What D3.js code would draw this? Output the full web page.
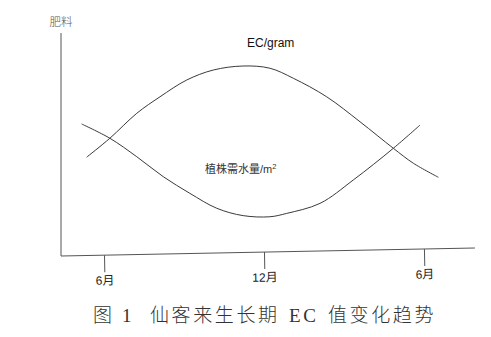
<!DOCTYPE html>
<html>
<head>
<meta charset="utf-8">
<script src="https://cdn.jsdelivr.net/npm/d3@7"></script>
<style>
  html, body { margin: 0; padding: 0; background: #fff; }
  svg { display: block; }
</style>
</head>
<body>
<svg id="chart" width="491" height="337"></svg>
<script>
// Month ticks along the growth period (offset in months from the first June)
const tickMonths = [0, 6, 12];
const tickLabels = ["6月", "12月", "6月"];

// EC per gram over the growth period (month offset, relative level)
const ecMonths = [-0.65, 0.22, 1.23, 2.1, 3.1, 4.1, 5.22, 6.22, 7.1, 8.35, 9.6, 10.85, 11.6, 12.54];
const ecValues = [44.3, 52.8, 64.0, 71.4, 78.9, 83.4, 85.2, 84.2, 79.7, 71.4, 60.2, 48.3, 41.6, 35.3];

// Plant water demand per m² over the same period
const waterMonths = [-0.84, 0.22, 1.23, 2.22, 3.22, 4.23, 5.22, 6.22, 6.85, 8.1, 9.35, 10.85, 11.85];
const waterValues = [59.2, 52.8, 44.5, 35.6, 28.1, 21.4, 18.1, 17.6, 19.1, 23.6, 34.1, 48.3, 58.7];

const yAxisLabel = "肥料";
const ecLabel = "EC/gram";
const waterLabel = "植株需水量/m";
const captionParts = [
  { text: "图", x: 93 },
  { text: "1", x: 122 },
  { text: "仙客来生长期", x: 150 },
  { text: "EC", x: 289 },
  { text: "值变化趋势", x: 328 }
];

const svg = d3.select("#chart");
const originX = 61, originY = 256;

const x = d3.scaleLinear().domain([0, 12]).range([104, 424]);
const y = d3.scaleLinear().domain([0, 100]).range([originY, 33]);

const ink = "#3a3a3a";
const axisInk = "#555";

// Vertical axis
svg.append("line")
  .attr("x1", originX).attr("x2", originX)
  .attr("y1", y(100)).attr("y2", originY)
  .attr("stroke", axisInk).attr("stroke-width", 1);

svg.append("text")
  .attr("x", originX).attr("y", 26)
  .attr("text-anchor", "middle")
  .attr("font-family", "'Noto Sans CJK SC', sans-serif")
  .attr("font-weight", 300)
  .attr("font-size", 11.5)
  .attr("fill", "#555")
  .text(yAxisLabel);

// Horizontal axis, drawn slightly tilted
const xAxis = d3.axisBottom(x)
  .tickValues(tickMonths)
  .tickFormat((d, i) => tickLabels[i])
  .tickSize(17)
  .tickSizeOuter(0)
  .tickPadding(4);

const xg = svg.append("g")
  .attr("transform", `translate(0,${originY}) rotate(-1.1, ${originX}, 0)`)
  .call(xAxis);
xg.select(".domain").remove();
xg.append("line")
  .attr("x1", originX).attr("x2", 475)
  .attr("y1", 0).attr("y2", 0)
  .attr("stroke", axisInk).attr("stroke-width", 1);
xg.selectAll(".tick line").attr("stroke", axisInk).attr("stroke-width", 1);
xg.selectAll(".tick text")
  .attr("font-family", "Arial, 'Liberation Sans', 'Noto Sans CJK SC', sans-serif")
  .attr("font-size", 12)
  .attr("fill", "#222");

// Curves
const line = d3.line()
  .x(d => x(d[0]))
  .y(d => y(d[1]))
  .curve(d3.curveCatmullRom.alpha(0.5));

svg.append("path")
  .datum(d3.zip(ecMonths, ecValues))
  .attr("d", line)
  .attr("fill", "none")
  .attr("stroke", ink)
  .attr("stroke-width", 1);

svg.append("path")
  .datum(d3.zip(waterMonths, waterValues))
  .attr("d", line)
  .attr("fill", "none")
  .attr("stroke", ink)
  .attr("stroke-width", 1);

// Curve labels
svg.append("text")
  .attr("x", 247).attr("y", 47)
  .attr("font-family", "Arial, 'Liberation Sans', sans-serif")
  .attr("font-size", 12)
  .attr("fill", "#111")
  .text(ecLabel);

const wl = svg.append("text")
  .attr("x", 205).attr("y", 173)
  .attr("font-family", "Arial, 'Liberation Sans', 'Noto Sans CJK SC', sans-serif")
  .attr("font-size", 11)
  .attr("fill", "#333");
wl.append("tspan").text(waterLabel);
wl.append("tspan").attr("font-size", 7.5).attr("dy", -4).text("2");

// Figure caption
const cap = svg.append("text")
  .attr("y", 322)
  .attr("font-family", "'Liberation Serif', 'DejaVu Serif', 'Noto Sans CJK SC', serif")
  .attr("font-size", 19)
  .attr("font-weight", 300)
  .attr("letter-spacing", 2.6)
  .attr("fill", "#333");
captionParts.forEach(p => {
  cap.append("tspan").attr("x", p.x).text(p.text);
});
</script>
</body>
</html>
